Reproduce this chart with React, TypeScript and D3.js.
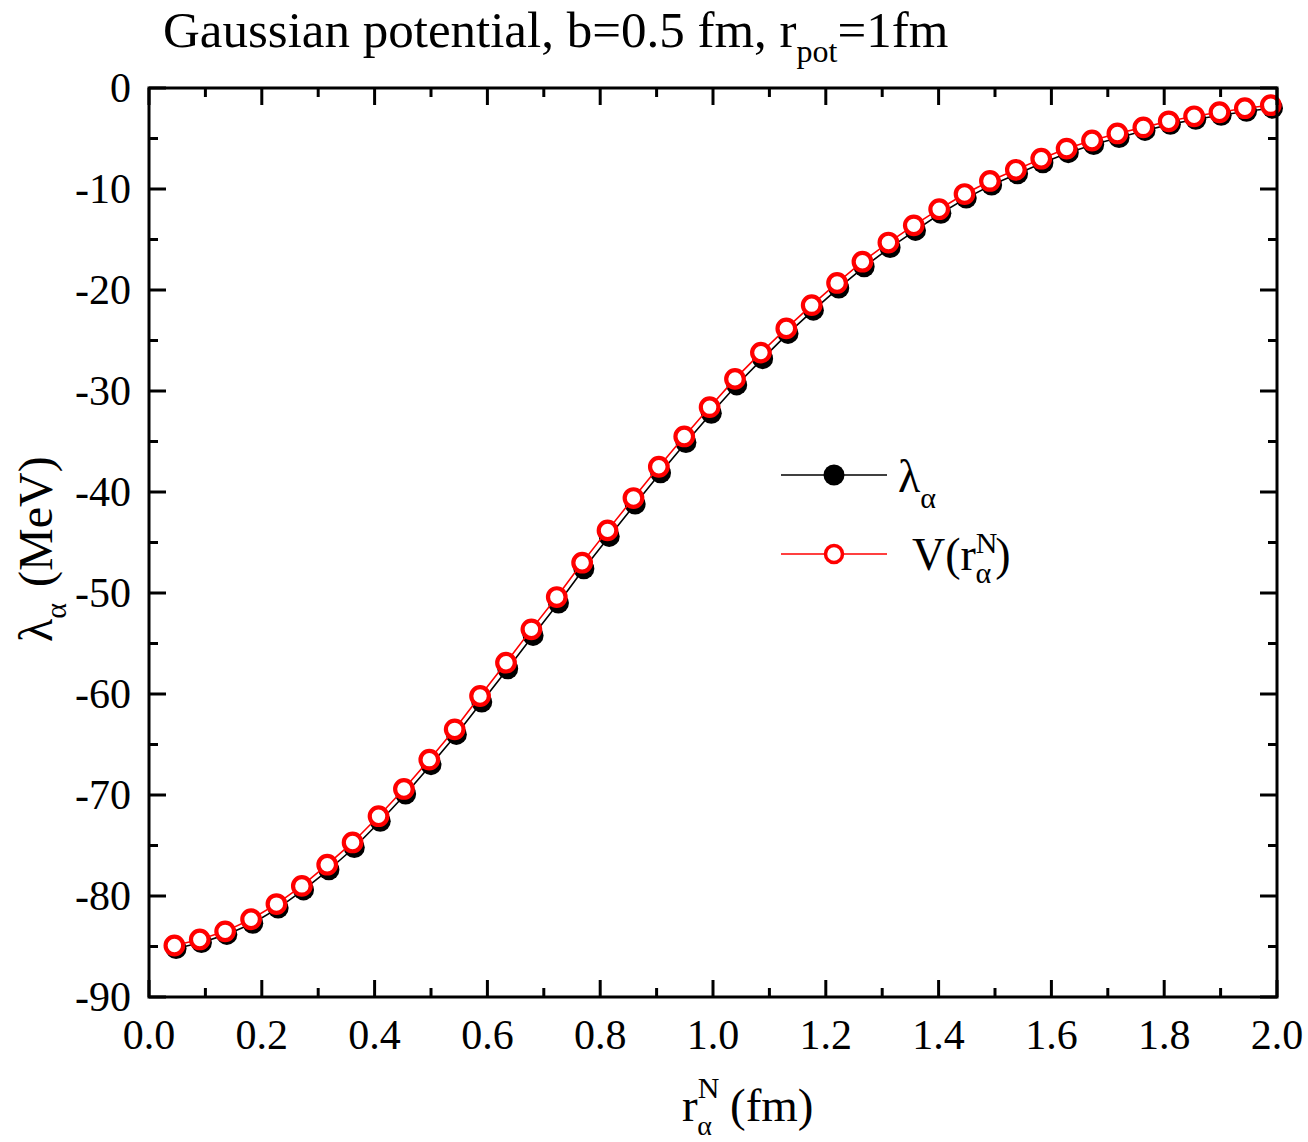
import React from "react";
import * as d3 from "d3";

const rValues = [0.045, 0.090, 0.135, 0.181, 0.226, 0.271, 0.316, 0.361, 0.407, 0.452, 0.497, 0.542, 0.587, 0.633, 0.678, 0.723, 0.768, 0.813, 0.859, 0.904, 0.949, 0.994, 1.039, 1.085, 1.130, 1.175, 1.220, 1.265, 1.311, 1.356, 1.401, 1.446, 1.491, 1.537, 1.582, 1.627, 1.672, 1.717, 1.763, 1.808, 1.853, 1.898, 1.943, 1.989];
const potValues = [-84.9, -84.3, -83.5, -82.3, -80.8, -79.0, -76.9, -74.7, -72.1, -69.4, -66.5, -63.5, -60.2, -56.9, -53.6, -50.4, -47.0, -43.8, -40.6, -37.5, -34.5, -31.6, -28.8, -26.2, -23.8, -21.5, -19.3, -17.2, -15.3, -13.6, -12.0, -10.5, -9.2, -8.1, -7.0, -6.0, -5.2, -4.5, -3.9, -3.3, -2.8, -2.4, -2.0, -1.7];
const lambdaValues = [-85.2, -84.6, -83.8, -82.7, -81.2, -79.4, -77.4, -75.2, -72.6, -69.9, -67.0, -64.0, -60.8, -57.5, -54.2, -51.0, -47.6, -44.4, -41.2, -38.1, -35.1, -32.2, -29.4, -26.8, -24.3, -22.0, -19.8, -17.7, -15.8, -14.1, -12.4, -10.9, -9.6, -8.5, -7.4, -6.4, -5.6, -4.9, -4.2, -3.6, -3.1, -2.7, -2.3, -2.0];
const xTicks = [0, 0.2, 0.4, 0.6, 0.8, 1.0, 1.2, 1.4, 1.6, 1.8, 2.0];
const xMinor = [0.1, 0.3, 0.5, 0.7, 0.9, 1.1, 1.3, 1.5, 1.7, 1.9];
const yTicks = [0, -10, -20, -30, -40, -50, -60, -70, -80, -90];
const yMinor = [-5, -15, -25, -35, -45, -55, -65, -75, -85];

const FONT = "'Liberation Serif', 'Times New Roman', serif";

export default function App() {
  const L = 149, R = 1277, T = 88, B = 997;
  const x = d3.scaleLinear().domain([0, 2]).range([L, R]);
  const y = d3.scaleLinear().domain([-90, 0]).range([B, T]);
  const lamShift = 0.003;
  const lamPts: [number, number][] = rValues.map((r, i) => [x(r + lamShift), y(lambdaValues[i])]);
  const potPts: [number, number][] = rValues.map((r, i) => [x(r), y(potValues[i])]);
  const line = d3.line();
  const MAJ = 17, MIN = 9;
  const tickFs = 42;

  return (
    <svg width={1308} height={1142} style={{ position: "absolute", left: 0, top: 0, background: "#fff" }} fontFamily={FONT}>
      <rect x={0} y={0} width={1308} height={1142} fill="#fff" />
      {/* data */}
      <path d={line(lamPts) || ""} fill="none" stroke="#000" strokeWidth={1.6} />
      {lamPts.map((p, i) => (
        <circle key={"l" + i} cx={p[0]} cy={p[1]} r={10.5} fill="#000" />
      ))}
      <path d={line(potPts) || ""} fill="none" stroke="#ff0000" strokeWidth={1.6} />
      {potPts.map((p, i) => (
        <circle key={"p" + i} cx={p[0]} cy={p[1]} r={8.8} fill="#fff" stroke="#ff0000" strokeWidth={4.2} />
      ))}
      {/* frame */}
      <rect x={L} y={T} width={R - L} height={B - T} fill="none" stroke="#000" strokeWidth={3} />
      {/* ticks */}
      {xTicks.map((t) => (
        <g key={"xt" + t}>
          <line x1={x(t)} x2={x(t)} y1={B} y2={B - MAJ} stroke="#000" strokeWidth={3} />
          <line x1={x(t)} x2={x(t)} y1={T} y2={T + MAJ} stroke="#000" strokeWidth={3} />
          <text x={x(t)} y={1049} fontSize={tickFs} textAnchor="middle">{t.toFixed(1)}</text>
        </g>
      ))}
      {xMinor.map((t) => (
        <g key={"xm" + t}>
          <line x1={x(t)} x2={x(t)} y1={B} y2={B - MIN} stroke="#000" strokeWidth={3} />
          <line x1={x(t)} x2={x(t)} y1={T} y2={T + MIN} stroke="#000" strokeWidth={3} />
        </g>
      ))}
      {yTicks.map((t) => (
        <g key={"yt" + t}>
          <line x1={L} x2={L + MAJ} y1={y(t)} y2={y(t)} stroke="#000" strokeWidth={3} />
          <line x1={R} x2={R - MAJ} y1={y(t)} y2={y(t)} stroke="#000" strokeWidth={3} />
          <text x={131} y={y(t) + 14} fontSize={tickFs} textAnchor="end">{t}</text>
        </g>
      ))}
      {yMinor.map((t) => (
        <g key={"ym" + t}>
          <line x1={L} x2={L + MIN} y1={y(t)} y2={y(t)} stroke="#000" strokeWidth={3} />
          <line x1={R} x2={R - MIN} y1={y(t)} y2={y(t)} stroke="#000" strokeWidth={3} />
        </g>
      ))}
      {/* title */}
      <text x={163} y={47} fontSize={51}>
        Gaussian potential, b=0.5 fm, r<tspan dy={15} fontSize={32}>pot</tspan><tspan dy={-15} fontSize={51}>=1fm</tspan>
      </text>
      {/* x label */}
      <text x={682} y={1121} fontSize={47}>
        r<tspan dy={-23} fontSize={30}>N</tspan><tspan dx={-22} dy={37} fontSize={28}>α</tspan><tspan dx={18} dy={-14} fontSize={47}>(fm)</tspan>
      </text>
      {/* y label */}
      <text transform={`translate(52, 642) rotate(-90)`} fontSize={48}>
        λ<tspan dy={14} fontSize={30}>α</tspan><tspan dx={16} dy={-14} fontSize={48}>(MeV)</tspan>
      </text>
      {/* legend */}
      <line x1={781} x2={887} y1={475} y2={475} stroke="#000" strokeWidth={1.6} />
      <circle cx={834} cy={475} r={10.5} fill="#000" />
      <text x={898} y={492} fontSize={46}>
        λ<tspan dy={16} fontSize={30}>α</tspan>
      </text>
      <line x1={781} x2={887} y1={554} y2={554} stroke="#ff0000" strokeWidth={1.6} />
      <circle cx={834} cy={554} r={8.5} fill="#fff" stroke="#ff0000" strokeWidth={3.5} />
      <text x={912} y={570} fontSize={46}>
        V(r<tspan dy={-17} fontSize={30}>N</tspan><tspan dx={-22} dy={30} fontSize={30}>α</tspan><tspan dx={4} dy={-13} fontSize={46}>)</tspan>
      </text>
    </svg>
  );
}
